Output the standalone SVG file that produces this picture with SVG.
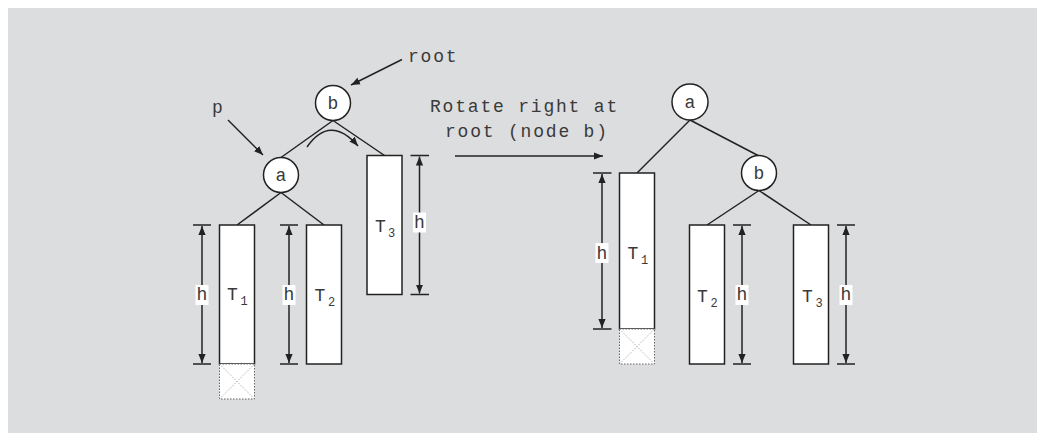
<svg xmlns="http://www.w3.org/2000/svg" width="1037" height="433" viewBox="0 0 1037 433">
<style>
.ln{stroke:#222;stroke-width:1.5;fill:none}
.nd{fill:#fff;stroke:#222;stroke-width:1.5}
.tr{fill:#fff;stroke:#222;stroke-width:1.5}
.dot{fill:#fff;stroke:#666;stroke-width:1;stroke-dasharray:1.5 1.5}
.x{stroke:#999;stroke-width:0.8;stroke-dasharray:1.5 1.5}
.t{font-family:"Courier New","Nimbus Mono PS","Nimbus Mono L",FreeMono,"Liberation Mono",monospace;font-size:18px;fill:#3a3a3a;letter-spacing:1.8px}
.s{font-size:12px;letter-spacing:0}
.c{letter-spacing:0}
.lb{fill:#fff}
.dim{stroke:#222;stroke-width:1.5;fill:none;marker-start:url(#ah);marker-end:url(#ah)}
.arr{stroke:#222;stroke-width:1.5;fill:none;marker-end:url(#ah)}
</style>
<defs>
<marker id="ah" viewBox="0 0 10 10" refX="10" refY="5" markerWidth="9" markerHeight="9" markerUnits="userSpaceOnUse" orient="auto-start-reverse">
<path d="M0,1 L10,5 L0,9 Z" fill="#222"/>
</marker>
</defs>
<rect x="8" y="8" width="1029" height="425" fill="#dcdddf"/>

<g id="connectors">
<line class="ln" x1="333" y1="120.5" x2="281" y2="157.5"/>
<line class="ln" x1="333" y1="120.5" x2="384.5" y2="155.5"/>
<line class="ln" x1="281" y1="192.5" x2="237" y2="225"/>
<line class="ln" x1="281" y1="192.5" x2="324" y2="225"/>
<line class="ln" x1="690" y1="120" x2="637" y2="173"/>
<line class="ln" x1="690" y1="120" x2="759" y2="156"/>
<line class="ln" x1="759" y1="190.5" x2="707" y2="225"/>
<line class="ln" x1="759" y1="190.5" x2="811" y2="225"/>
<line class="arr" x1="402" y1="59.5" x2="351" y2="85"/>
<line class="arr" x1="228" y1="120" x2="263" y2="155"/>
<path class="arr" d="M307,147 Q330,114 358,146"/>
<line class="arr" x1="455" y1="156" x2="603" y2="156"/>
</g>

<g id="labels">
<text class="t" x="408" y="62">root</text>
<text class="t" x="212" y="113">p</text>
<text class="t" x="430" y="112">Rotate right at</text>
<text class="t" x="445" y="136.5">root (node b)</text>
</g>

<g id="left-b"><circle class="nd" cx="333" cy="103" r="17.5"/><text class="t c" x="333" y="109" text-anchor="middle">b</text></g>
<g id="left-a"><circle class="nd" cx="281" cy="175" r="17.5"/><text class="t c" x="281" y="181" text-anchor="middle">a</text></g>

<g id="left-T1">
<rect class="tr" x="219.5" y="225" width="35" height="139"/>
<rect class="dot" x="219.5" y="364" width="35" height="35"/>
<line class="x" x1="219.5" y1="364" x2="254.5" y2="399"/><line class="x" x1="254.5" y1="364" x2="219.5" y2="399"/>
<text class="t" x="227" y="300">T<tspan class="s" x="240.5" y="305">1</tspan></text>
<line class="ln" x1="193" y1="225" x2="211" y2="225"/><line class="ln" x1="193" y1="364" x2="211" y2="364"/>
<line class="dim" x1="202" y1="226" x2="202" y2="363"/>
<rect class="lb" x="195.5" y="285" width="13" height="20"/>
<text class="t c" x="202" y="300" text-anchor="middle">h</text>
</g>

<g id="left-T2">
<rect class="tr" x="306.5" y="225" width="35" height="139"/>
<text class="t" x="314.5" y="300.5">T<tspan class="s" x="328" y="305.5">2</tspan></text>
<line class="ln" x1="280" y1="225" x2="298" y2="225"/><line class="ln" x1="280" y1="364" x2="298" y2="364"/>
<line class="dim" x1="289" y1="226" x2="289" y2="363"/>
<rect class="lb" x="282.5" y="285" width="13" height="20"/>
<text class="t c" x="289" y="300" text-anchor="middle">h</text>
</g>

<g id="left-T3">
<rect class="tr" x="367" y="155.5" width="35" height="139"/>
<text class="t" x="375" y="231.5">T<tspan class="s" x="388" y="236.5">3</tspan></text>
<line class="ln" x1="410.5" y1="155.5" x2="429" y2="155.5"/><line class="ln" x1="410.5" y1="294.5" x2="429" y2="294.5"/>
<line class="dim" x1="419.5" y1="156.5" x2="419.5" y2="293.5"/>
<rect class="lb" x="413" y="212.5" width="13" height="20"/>
<text class="t c" x="419.5" y="228" text-anchor="middle">h</text>
</g>

<g id="right-a"><circle class="nd" cx="690" cy="102" r="18"/><text class="t c" x="690" y="108" text-anchor="middle">a</text></g>
<g id="right-b"><circle class="nd" cx="759" cy="173" r="17.5"/><text class="t c" x="759" y="179" text-anchor="middle">b</text></g>

<g id="right-T1">
<rect class="tr" x="619.5" y="173" width="35" height="156"/>
<rect class="dot" x="619.5" y="329" width="35" height="35"/>
<line class="x" x1="619.5" y1="329" x2="654.5" y2="364"/><line class="x" x1="654.5" y1="329" x2="619.5" y2="364"/>
<text class="t" x="627.5" y="258.5">T<tspan class="s" x="641" y="263.5">1</tspan></text>
<line class="ln" x1="593" y1="173" x2="611.5" y2="173"/><line class="ln" x1="593" y1="329" x2="611.5" y2="329"/>
<line class="dim" x1="602" y1="174" x2="602" y2="328"/>
<rect class="lb" x="595.5" y="243" width="13" height="20"/>
<text class="t c" x="602" y="258.5" text-anchor="middle">h</text>
</g>

<g id="right-T2">
<rect class="tr" x="689.5" y="225" width="35" height="139"/>
<text class="t" x="697" y="301.5">T<tspan class="s" x="710.5" y="306.5">2</tspan></text>
<line class="ln" x1="733" y1="225" x2="751" y2="225"/><line class="ln" x1="733" y1="364" x2="751" y2="364"/>
<line class="dim" x1="742" y1="226" x2="742" y2="363"/>
<rect class="lb" x="735.5" y="285" width="13" height="20"/>
<text class="t c" x="742" y="300" text-anchor="middle">h</text>
</g>

<g id="right-T3">
<rect class="tr" x="793.5" y="225" width="35" height="139"/>
<text class="t" x="802" y="301.5">T<tspan class="s" x="815.5" y="306.5">3</tspan></text>
<line class="ln" x1="837" y1="225" x2="855" y2="225"/><line class="ln" x1="837" y1="364" x2="855" y2="364"/>
<line class="dim" x1="846" y1="226" x2="846" y2="363"/>
<rect class="lb" x="839.5" y="285" width="13" height="20"/>
<text class="t c" x="846" y="300" text-anchor="middle">h</text>
</g>
</svg>
